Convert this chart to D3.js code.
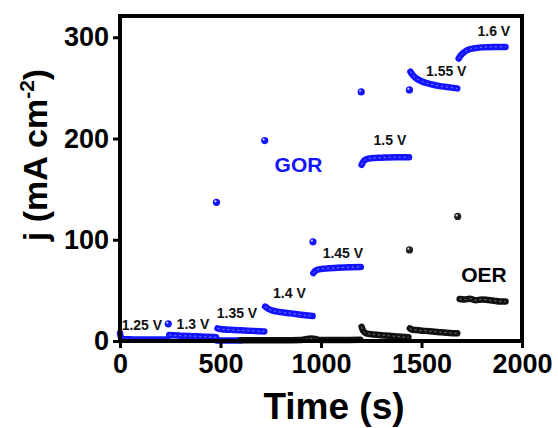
<!DOCTYPE html>
<html><head><meta charset="utf-8">
<script src="https://cdn.jsdelivr.net/npm/d3@7/dist/d3.min.js"></script>
<style>body{margin:0;background:#fff;font-family:Arial,"Liberation Sans",sans-serif;}</style>
</head><body><svg id="c" width="558" height="428"></svg>
<script>
// ---- data (time s, j mA cm^-2) ----
const xTicks = [0, 500, 1000, 1500, 2000];
const yTicks = [0, 100, 200, 300];
const gor125 = [[0,8],[6,2.5],[20,1.8],[60,1.6],[120,1.5],[180,1.5],[236,1.5]];
const gor130 = [[245,6],[270,5.6],[300,5.3],[360,4.8],[420,4.3],[478,3.8]];
const gor135 = [[485,12.5],[500,11.8],[550,11],[600,10.5],[660,10],[718,9.5]];
const gor140 = [[722,34],[735,32],[760,30],[800,28.5],[850,27.3],[900,26],[958,24.6]];
const gor145 = [[962,67],[970,69],[985,70.5],[1020,71.5],[1080,72.3],[1140,72.8],[1198,73]];
const gor150 = [[1202,174],[1210,177],[1225,179.5],[1250,180.5],[1300,181],[1370,181.5],[1438,181.5]];
const gor155 = [[1445,266],[1455,263],[1470,260],[1500,256.5],[1540,254],[1600,251.5],[1640,250.5],[1678,249.5]];
const gor160 = [[1685,279],[1695,282],[1710,285],[1730,287.5],[1760,289],[1800,290],[1860,290.5],[1918,290.5]];
const gorSpikes = [[240,17],[480,137],[720,198],[960,98],[1200,246],[1440,248]];
const oerEarly = [[480,0.6],[520,0.6],[560,0.6],[600,0.6]];
const oer1 = [[600,0.8],[700,0.8],[800,0.8],[900,1],[950,2.5],[965,2.2],[1000,1],[1100,1],[1195,1.2]];
const oer150 = [[1202,14],[1210,10],[1225,7.6],[1260,6.5],[1320,5.5],[1380,4.5],[1435,3.6]];
const oer155 = [[1442,12.5],[1450,11.5],[1472,10.8],[1520,10],[1580,9],[1640,8],[1678,7.6]];
const oer160 = [[1690,41.5],[1715,41],[1740,41.8],[1770,40.3],[1800,41],[1830,40.5],[1860,39.8],[1890,39],[1918,39]];
const oerSpikes = [[1440,90],[1680,123]];
const stepLabels = ["1.25 V","1.3 V","1.35 V","1.4 V","1.45 V","1.5 V","1.55 V","1.6 V"];
const stepLabelT = [109, 363, 582, 843, 1109, 1343, 1623, 1860];
const stepLabelJ = [15.8, 16.3, 27.7, 47.4, 87, 198.7, 266.2, 305.7];
const seriesNames = ["GOR", "OER"];
const seriesLabelT = [888, 1811];
const seriesLabelJ = [174, 66];

// ---- chart ----
const svg = d3.select("#c");
const L = 120, R = 522, T = 16, B = 341;
const x = d3.scaleLinear().domain([0, 2000]).range([L, R]);
const y = d3.scaleLinear().domain([0, 321]).range([B, T]);
const BLUE = "#1414ff", BLACK = "#111";

const defs = svg.append("defs");
function grad(id, c) {
  const g = defs.append("radialGradient").attr("id", id).attr("cx", "35%").attr("cy", "35%").attr("r", "65%");
  g.append("stop").attr("offset", "0%").attr("stop-color", "#fff");
  g.append("stop").attr("offset", "35%").attr("stop-color", c);
  g.append("stop").attr("offset", "100%").attr("stop-color", c);
}
grad("gb", BLUE); grad("gk", "#222");

const line = d3.line().x(d => x(d[0])).y(d => y(d[1])).curve(d3.curveMonotoneX);
function series(data, color) {
  svg.append("path").attr("d", line(data)).attr("fill", "none").attr("stroke", color)
    .attr("stroke-width", 6.5).attr("stroke-linecap", "round").attr("stroke-linejoin", "round");
  svg.append("path").attr("d", line(data)).attr("fill", "none").attr("stroke", "#fff")
    .attr("stroke-opacity", 0.45).attr("stroke-width", 1).attr("stroke-dasharray", "2 3");
}
function dots(data, gid, r) {
  svg.append("g").selectAll("circle").data(data).join("circle")
    .attr("cx", d => x(d[0])).attr("cy", d => y(d[1])).attr("r", r).attr("fill", `url(#${gid})`);
}
series(oerEarly, BLUE);
[oer1, oer150, oer155, oer160].forEach(s => series(s, BLACK));
dots(oerSpikes, "gk", 3.6);
[gor125, gor130, gor135, gor140, gor145, gor150, gor155, gor160].forEach(s => series(s, BLUE));
dots(gorSpikes, "gb", 3.6);

// frame
svg.append("rect").attr("x", L).attr("y", T).attr("width", R - L).attr("height", B - T)
  .attr("fill", "none").attr("stroke", "#000").attr("stroke-width", 4);

// axes
const xa = svg.append("g").attr("transform", `translate(0,${B})`)
  .call(d3.axisBottom(x).tickValues(xTicks).tickFormat(d3.format("d")).tickSize(7).tickSizeOuter(0).tickPadding(6));
const ya = svg.append("g").attr("transform", `translate(${L},0)`)
  .call(d3.axisLeft(y).tickValues(yTicks).tickFormat(d3.format("d")).tickSize(7).tickSizeOuter(0).tickPadding(4));
[xa, ya].forEach(a => {
  a.select(".domain").remove();
  a.selectAll("line").attr("stroke", "#000").attr("stroke-width", 3);
  a.selectAll("text").attr("fill", "#000").style("font-size", "27px").style("font-weight", "bold")
    .style("font-family", "Arial, 'Liberation Sans', sans-serif");
});

// axis titles
svg.append("text").attr("x", 334).attr("y", 419).attr("text-anchor", "middle")
  .style("font-size", "37px").style("font-weight", "bold").text("Time (s)");
const yt = svg.append("text").attr("transform", "translate(47,155) rotate(-90)").attr("text-anchor", "middle")
  .style("font-size", "34px").style("font-weight", "bold");
yt.append("tspan").text("j (mA cm");
yt.append("tspan").attr("dy", -13).style("font-size", "21px").text("-2");
yt.append("tspan").attr("dy", 13).text(")");

// labels
svg.append("g").selectAll("text").data(stepLabels).join("text")
  .attr("x", (d, i) => x(stepLabelT[i])).attr("y", (d, i) => y(stepLabelJ[i]))
  .attr("text-anchor", "middle").attr("dominant-baseline", "central")
  .style("font-size", "14px").style("font-weight", "bold").attr("fill", "#111").text(d => d);
svg.append("g").selectAll("text").data(seriesNames).join("text")
  .attr("x", (d, i) => x(seriesLabelT[i])).attr("y", (d, i) => y(seriesLabelJ[i]))
  .attr("text-anchor", "middle").attr("dominant-baseline", "central")
  .style("font-size", "21px").style("font-weight", "bold")
  .attr("fill", (d, i) => i === 0 ? BLUE : "#000").text(d => d);
</script></body></html>
